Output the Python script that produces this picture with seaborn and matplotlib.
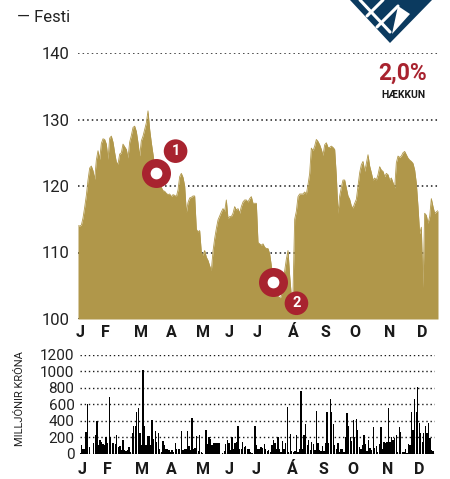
import matplotlib
matplotlib.use('Agg')
import matplotlib.pyplot as plt
import numpy as np
import pandas as pd
import seaborn as sns
from matplotlib.patches import Polygon
from matplotlib.lines import Line2D

# Gengi Festi (lokagengi), lesið af myndinni
price = [
    114.0, 114.0, 114.1, 115.2, 116.8, 118.6, 120.9, 122.7, 123.0, 122.3,
    121.0, 123.9, 125.3, 124.0, 126.4, 127.1, 127.0, 126.3, 124.0, 127.2,
    127.5, 126.6, 125.0, 123.6, 123.3, 124.8, 125.0, 126.3, 125.9, 125.5,
    124.2, 126.6, 127.6, 128.8, 129.0, 128.2, 126.5,
    124.5, 126.8, 127.5, 128.5, 129.5, 131.3, 128.5, 126.5, 124.8, 123.0,
    122.0, 121.3, 120.5, 119.8, 119.3, 119.2, 118.9, 118.7, 118.8, 118.4,
    118.7, 118.6, 118.4, 119.4, 121.4, 121.9, 121.3, 120.0, 116.0, 117.5,
    118.2, 118.3, 118.5, 118.5, 113.5,
    113.1, 113.3, 110.0, 109.6, 110.3, 109.3, 108.8, 108.0, 107.3, 110.2,
    112.1, 113.6, 114.9, 115.5, 116.1, 116.6, 116.2, 117.9, 115.1, 115.4,
    115.4, 115.9, 116.9, 116.4, 116.6, 115.9, 116.9, 117.6, 117.9, 117.9,
    117.6, 118.1, 118.4, 117.4, 117.4, 117.4,
    111.5, 111.3, 111.1, 111.3, 110.8, 110.6, 110.6, 109.8, 108.0, 106.5,
    105.0, 104.0, 103.4, 103.2, 103.4, 105.5, 107.2, 109.0, 110.3, 106.5,
    103.5, 104.0, 115.0, 116.2, 118.4, 118.8, 118.8, 118.8, 119.1, 118.8,
    120.2, 121.9, 125.7, 125.3, 126.0, 127.0, 126.7, 126.2, 125.5, 124.6,
    126.2, 126.5, 125.8, 125.8, 126.0, 125.8, 125.5, 121.5, 115.9, 118.5,
    119.8, 120.9, 120.9, 119.7, 118.5, 118.0, 117.0, 116.7, 117.4, 118.0,
    120.0, 122.0, 123.2, 123.7, 122.2, 123.4, 124.7, 123.0, 122.0, 120.9,
    121.2, 120.9, 121.7, 122.9, 122.4, 122.2, 121.4, 121.9, 121.7, 120.9,
    121.2, 120.5, 119.7, 123.5, 124.5, 124.3, 124.5, 125.0, 125.2, 124.7,
    124.2, 123.9, 123.7, 123.4, 122.4, 120.4, 116.9, 112.8, 113.8, 104.7,
    115.9, 115.6, 114.4, 115.4, 118.1, 116.9, 115.9, 116.1, 116.3]

# Velta í milljónum króna
volume = [
    10, 100, 60, 50, 260, 600, 80, 0, 0, 130, 220, 400, 100, 170, 140, 120,
    100, 200, 130, 690, 200, 130, 130, 120, 230, 80, 90, 40, 170, 40, 30, 40,
    80, 20, 250, 340, 340, 500, 560, 250, 100, 1020, 340, 100, 210, 210, 100,
    410, 180, 270, 140, 250, 50, 20, 150, 100, 60, 60, 40, 20, 40, 20, 130,
    60, 60, 60, 280, 40, 50, 60, 270, 90, 40, 430, 60, 70, 210, 30, 220, 20,
    10, 0, 290, 110, 200, 180, 100, 130, 130, 130, 130, 130, 0, 10, 30, 120,
    170, 130, 40, 200, 50, 130, 140, 340, 60, 60, 140, 80, 90, 50, 50, 20, 10,
    0, 330, 100, 50, 60, 80, 70, 120, 50, 30, 40, 20, 100, 160, 130, 60, 200,
    60, 20, 150, 60, 130, 570, 20, 240, 30, 20, 30, 220, 20, 60, 760, 60, 220,
    360, 100, 170, 40, 140, 120, 40, 520, 130, 40, 30, 90, 30, 130, 510, 130,
    670, 510, 360, 100, 50, 130, 20, 50, 60, 20, 200, 490, 330, 200, 150, 410,
    200, 420, 290, 80, 50, 100, 220, 120, 30, 170, 70, 40, 320, 70, 90, 20,
    120, 320, 60, 140, 130, 140, 560, 140, 200, 170, 190, 220, 20, 320, 260,
    20, 20, 50, 10, 120, 100, 500, 290, 660, 500, 810, 370, 250, 140, 250,
    340, 250, 370, 190, 40, 30]

month_ticks = ['2023-01-03', '2023-01-29', '2023-03-06', '2023-04-05',
               '2023-05-07', '2023-06-03', '2023-07-01', '2023-08-07',
               '2023-09-08', '2023-10-08', '2023-11-12', '2023-12-15']
month_labels = ['J', 'F', 'M', 'A', 'M', 'J', 'J', 'Á', 'S', 'O', 'N', 'D']
price_ticks = [100, 110, 120, 130, 140]
volume_ticks = [0, 200, 400, 600, 800, 1000, 1200]

# Merktir atburðir (dagsetning, gengi, númer, hliðrun merkis)
events = [('2023-03-21', 121.9, '1', (14, 16)),
          ('2023-07-17', 105.5, '2', (17, -15))]

GOLD = '#b0974a'
RED = '#a8232f'
NAVY = '#0b3a5f'
INK = '#1a1a1a'

sns.set_theme(style='white')
plt.rcParams['font.family'] = ['Roboto', 'DejaVu Sans']

dates = pd.date_range('2023-01-01', '2023-12-31', periods=len(price))
vol_dates = pd.date_range('2023-01-01', '2023-12-29', periods=len(volume))
df = pd.DataFrame({'dagur': dates, 'gengi': price})
xlim = (pd.Timestamp('2023-01-01'), pd.Timestamp('2023-12-31'))
tick_dates = pd.to_datetime(month_ticks)

W, H = 450, 479
fig = plt.figure(figsize=(W / 100, H / 100), dpi=100)
ax = fig.add_axes([78 / W, 1 - 319 / H, 360 / W, 266 / H])
ax2 = fig.add_axes([80 / W, 1 - 453.5 / H, 355 / W, 98.5 / H])

dots = (0, (1, 2.0))

# Efra graf: gengi
ax.fill_between(df['dagur'], df['gengi'], 100, color=GOLD, lw=0, zorder=2)
sns.lineplot(data=df, x='dagur', y='gengi', color=GOLD, lw=0.6, ax=ax,
             zorder=2)
ax.set_ylim(100, 140)
ax.set_xlim(*xlim)
ax.set_yticks(price_ticks)
ax.set_xticks(tick_dates)
ax.set_xticklabels(month_labels, fontsize=11.5, fontweight='bold', color=INK)
ax.tick_params(axis='y', labelsize=12, colors='#222222', length=0, pad=6)
ax.tick_params(axis='x', length=0, pad=4)
ax.yaxis.grid(True, linestyle=dots, color=INK, lw=1.1)
ax.xaxis.grid(False)
ax.set_axisbelow(True)
ax.set_xlabel('')
ax.set_ylabel('')
for s in ax.spines.values():
    s.set_visible(False)

for d, v, num, off in events:
    x = pd.Timestamp(d)
    ax.scatter([x], [v], s=215, facecolor='white', edgecolor=RED,
               linewidth=6.2, zorder=6, clip_on=False)
    ax.annotate(num, xy=(x, v), xytext=off, textcoords='offset points',
                ha='center', va='center', fontsize=10.5, fontweight='bold',
                color='white', zorder=7,
                bbox=dict(boxstyle='circle,pad=0.33', fc=RED, ec='none'))

# Neðra graf: velta
ax2.bar(vol_dates, volume, width=1.35, color='#000000', lw=0, zorder=3)
ax2.set_ylim(0, 1200)
ax2.set_xlim(*xlim)
ax2.set_yticks(volume_ticks)
ax2.set_xticks(tick_dates)
ax2.set_xticklabels(month_labels, fontsize=11.5, fontweight='bold', color=INK)
ax2.tick_params(axis='y', labelsize=11, colors='#222222', length=0, pad=4)
ax2.tick_params(axis='x', length=0, pad=6)
ax2.yaxis.grid(True, linestyle=dots, color=INK, lw=1.0)
ax2.set_axisbelow(True)
for s in ax2.spines.values():
    s.set_visible(False)

fig.text(20 / W, 1 - 399 / H, 'MILLJÓNIR KRÓNA', rotation=90, ha='center',
         va='center', fontsize=8, color='#222222')

# Titill og hækkun
fig.text(17 / W, 1 - 18 / H, '— Festi', ha='left', va='center',
         fontsize=12, color='#222222')
fig.text(403 / W, 1 - 73 / H, '2,0%', ha='center', va='center',
         fontsize=16.5, fontweight='bold', color=RED)
fig.text(403 / W, 1 - 95 / H, 'HÆKKUN', ha='center', va='center',
         fontsize=7.5, fontweight='bold', color=INK)

# Merki (einfölduð mynd)
def px(x, y):
    return (x / W, 1 - y / H)

fig.add_artist(Polygon([px(350, 0), px(432, 0), px(390, 43)],
                       closed=True, fc=NAVY, ec='none',
                       transform=fig.transFigure))
for (x0, y0), (x1, y1) in [((360, 0), (390, 32)), ((367, 16), (383, 0)),
                           ((377, 27), (398, 6))]:
    fig.add_artist(Line2D([x0 / W, x1 / W], [1 - y0 / H, 1 - y1 / H],
                          color='white', lw=2.2, transform=fig.transFigure))
fig.add_artist(Polygon([px(398, 6), px(410, 14), px(392, 34)],
                       closed=True, fc='white', ec='none',
                       transform=fig.transFigure))

fig.savefig('out.png', dpi=100)
